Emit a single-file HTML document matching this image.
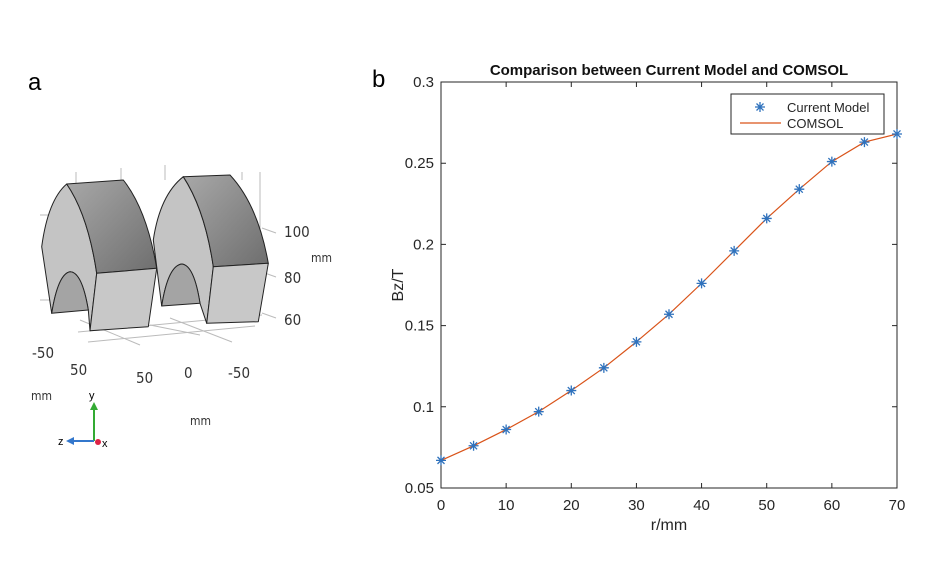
<!DOCTYPE html>
<html><head><meta charset="utf-8"><style>
body{margin:0;background:#fff;width:939px;height:564px;overflow:hidden;font-family:"Liberation Sans",sans-serif}
</style></head><body>
<svg width="939" height="564">
<g stroke-linejoin="round">
<text x="28" y="90" font-size="24">a</text>
<defs><linearGradient id="g1" x1="0" y1="0" x2="1" y2="1"><stop offset="0" stop-color="#a8a8a8"/><stop offset="1" stop-color="#6e6e6e"/></linearGradient></defs>
<g stroke="#bbb" stroke-width="1" fill="none">
<line x1="88" y1="342" x2="255" y2="326"/><line x1="78" y1="332" x2="262" y2="315"/>
<line x1="80" y1="320" x2="140" y2="345"/><line x1="170" y1="318" x2="232" y2="342"/><line x1="150" y1="325" x2="200" y2="335"/>
<line x1="40" y1="215" x2="62" y2="215"/><line x1="40" y1="300" x2="52" y2="300"/>
<line x1="262" y1="228" x2="276" y2="233"/><line x1="262" y1="272" x2="276" y2="277"/><line x1="262" y1="313" x2="276" y2="318"/>
<line x1="76" y1="172" x2="76" y2="186"/><line x1="121" y1="168" x2="121" y2="182"/><line x1="165" y1="165" x2="165" y2="180"/><line x1="260" y1="172" x2="260" y2="232"/>
<line x1="242" y1="172" x2="242" y2="180"/>
</g>
<g stroke="#222" stroke-width="1">
<!-- left block -->
<path d="M51.7,313.3 L41.7,246.7 Q48,200 66.7,184 Q88,215 96.7,273.3 L90,330.7 L88.3,310 Q82,272 70,271.7 Q58,274 51.7,313.3 Z" fill="#c4c4c4"/>
<path d="M66.7,184 L123.3,180 Q147,210 156.7,268.3 L96.7,273.3 Q88,215 66.7,184 Z" fill="url(#g1)"/>
<path d="M96.7,273.3 L156.7,268.3 L148.3,326.7 L90,330.7 Z" fill="#c8c8c8"/>
<path d="M51.7,313.3 Q58,274 70,271.7 Q82,272 88.3,310 Z" fill="#a4a4a4"/>
<!-- right block -->
<path d="M161.7,306 L153.3,240 Q160,195 183.3,176.7 Q205,210 213.3,266.7 L206.7,323.3 L200,303.3 Q194,265 181.7,264 Q168,266 161.7,306 Z" fill="#c4c4c4"/>
<path d="M183.3,176.7 L230,175 Q258,205 268.3,263.3 L213.3,266.7 Q205,210 183.3,176.7 Z" fill="url(#g1)"/>
<path d="M213.3,266.7 L268.3,263.3 L258.3,321.7 L206.7,323.3 Z" fill="#c8c8c8"/>
<path d="M161.7,306 Q168,266 181.7,264 Q194,265 200,303.3 Z" fill="#a4a4a4"/>
</g>
<g font-size="15" fill="#333" font-family="'DejaVu Sans Condensed','Liberation Sans Narrow',sans-serif">
<text x="284" y="237">100</text>
<text x="311" y="262" font-size="12">mm</text>
<text x="284" y="283">80</text>
<text x="284" y="325">60</text>
<text x="32" y="358">-50</text>
<text x="70" y="375">50</text>
<text x="136" y="383">50</text>
<text x="184" y="378">0</text>
<text x="228" y="378">-50</text>
<text x="31" y="400" font-size="12">mm</text>
<text x="190" y="425" font-size="12">mm</text>
</g>
<g>
<line x1="94" y1="441" x2="94" y2="408" stroke="#3a3" stroke-width="2"/><polygon points="90,410 98,410 94,402" fill="#3a3"/>
<line x1="94" y1="441" x2="72" y2="441" stroke="#37c" stroke-width="2"/><polygon points="74,437 74,445 66,441" fill="#37c"/>
<circle cx="98" cy="442" r="3" fill="#d24"/>
<text x="89" y="399" font-size="11">y</text>
<text x="58" y="445" font-size="11">z</text>
<text x="102" y="447" font-size="11">x</text>
</g>
</g>
<text x="372" y="87" font-size="24">b</text>
<g id="chart"></g>
</svg>
<script>
const rValues=[0,5,10,15,20,25,30,35,40,45,50,55,60,65,70];
const modelValues=[0.067,0.076,0.086,0.097,0.110,0.124,0.140,0.157,0.176,0.196,0.216,0.234,0.251,0.263,0.268];
const comsolValues=[0.067,0.076,0.086,0.097,0.110,0.124,0.140,0.157,0.176,0.196,0.216,0.234,0.251,0.263,0.268];
const xTicks=[0,10,20,30,40,50,60,70];
const yTicks=[0.05,0.1,0.15,0.2,0.25,0.3];
const yTickLabels=["0.05","0.1","0.15","0.2","0.25","0.3"];
const L=441,R=897,T=82,B=488;
const X=v=>L+(v-0)/70*(R-L);
const Y=v=>B-(v-0.05)/0.25*(B-T);
const NS="http://www.w3.org/2000/svg";
const g=document.getElementById('chart');
function mk(t,a,txt){const e=document.createElementNS(NS,t);for(const k in a)e.setAttribute(k,a[k]);if(txt!=null)e.textContent=txt;g.appendChild(e);return e;}
let e;
e=mk('rect',{x:L,y:T,width:R-L,height:B-T,fill:'#fff',stroke:'#262626','stroke-width':1});


xTicks.forEach(v=>{
 e=mk('path',{d:`M${X(v)},${B}v-5M${X(v)},${T}v5`,stroke:'#262626'});
 
 
 e=mk('text',{x:X(v),y:B+22,'text-anchor':'middle','font-size':15,fill:'#262626'},String(v));
 
 
});
yTicks.forEach((v,i)=>{
 e=mk('path',{d:`M${L},${Y(v)}h5M${R},${Y(v)}h-5`,stroke:'#262626'});
 
 
 e=mk('text',{x:L-7,y:Y(v)+5,'text-anchor':'end','font-size':15,fill:'#262626'},yTickLabels[i]);
 
 
});
e=mk('text',{x:(L+R)/2,y:530,'text-anchor':'middle','font-size':16,fill:'#262626'},'r/mm');


e=mk('text',{x:0,y:0,'text-anchor':'middle','font-size':16,fill:'#262626',transform:`translate(403,${(T+B)/2}) rotate(-90)`},'Bz/T');


e=mk('text',{x:669,y:75,'text-anchor':'middle','font-size':15,'font-weight':'bold',fill:'#111'},'Comparison between Current Model and COMSOL');


e=mk('polyline',{points:rValues.map((r,i)=>X(r)+','+Y(comsolValues[i])).join(' '),fill:'none',stroke:'#d95319','stroke-width':1.2});


function star(cx,cy,name){
 const s=5;
 e=mk('path',{d:`M${cx-s},${cy}h${2*s}M${cx},${cy-s}v${2*s}M${cx-s*.7},${cy-s*.7}l${1.4*s},${1.4*s}M${cx-s*.7},${cy+s*.7}l${1.4*s},${-1.4*s}`,stroke:'#2f72bd','stroke-width':1.3});
 
 
}
rValues.forEach((r,i)=>star(X(r),Y(modelValues[i]),'model-point'));
e=mk('rect',{x:731,y:94,width:153,height:40,fill:'#fff',stroke:'#262626'});


star(760,107,'legend-model-marker');
e=mk('text',{x:787,y:112,'font-size':13,fill:'#262626'},'Current Model');


e=mk('line',{x1:740,y1:123,x2:781,y2:123,stroke:'#d95319','stroke-width':1.2});


e=mk('text',{x:787,y:128,'font-size':13,fill:'#262626'},'COMSOL');


</script>
</body></html>
